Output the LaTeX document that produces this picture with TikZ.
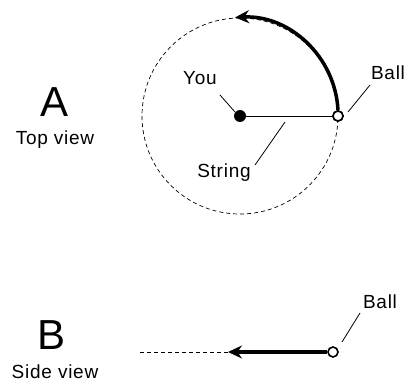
\documentclass[tikz,border=0pt]{standalone}
\usepackage{fontspec}
\setmainfont{Liberation Sans}
\newfontfamily\lblfont{Liberation Sans}[LetterSpace=4]
\usetikzlibrary{arrows.meta}
\tikzset{
  lbl/.style={font=\lblfont\fontsize{19}{21}\selectfont, inner sep=1pt},
  bigletter/.style={font=\fontsize{42}{44}\selectfont, inner sep=0pt},
  leader/.style={line width=0.8pt},
  orbit/.style={line width=0.7pt, dash pattern=on 4pt off 3pt},
  motion/.style={line width=3.5pt, -{Stealth[length=14pt,width=13pt]}},
  ball/.style={circle, draw, fill=white, line width=1.6pt, minimum size=10pt, inner sep=0pt},
  you/.style={circle, fill=black, minimum size=12pt, inner sep=0pt}
}
\begin{document}
\begin{tikzpicture}[x=1pt,y=1pt]
\useasboundingbox (0,0) rectangle (407,383);

% A: top view
\node[bigletter] (letA) at (55,281) {A};
\node[lbl] (topview) at (55,243) {Top view};

\draw[orbit] (240,267) circle[radius=98pt];
\node[you] (you) at (240,267) {};
\node[ball] (ballA) at (338,267) {};
\draw[line width=0.8pt] (you) -- (ballA);
\draw[motion] (ballA.north) arc[start angle=3, end angle=93, radius=98pt];
\node[ball] at (ballA) {};

\node[lbl] (youlbl) at (200,305) {You};
\node[lbl] (balllblA) at (388,310) {Ball};
\node[lbl] (stringlbl) at (224,210) {String};
\coordinate (youend) at (235,271);
\coordinate (ballendA) at (348,271);
\coordinate (stringend) at (285,261);
\draw[leader] (220,288) -- (youend);
\draw[leader] (370,298) -- (ballendA);
\draw[leader] (255,218) -- (stringend);

% B: side view
\node[bigletter] (letB) at (52,48) {B};
\node[lbl] (sideview) at (55,11) {Side view};

\node[ball] (ballB) at (333,31) {};
\coordinate (tipB) at (228,31);
\coordinate (fadeB) at (140,31);
\draw[orbit] (fadeB) -- (tipB);
\draw[motion] (ballB.west) -- (tipB);
\node[lbl] (balllblB) at (380,81) {Ball};
\coordinate (ballendB) at (342,41);
\draw[leader] (360,70) -- (ballendB);
\end{tikzpicture}
\end{document}
